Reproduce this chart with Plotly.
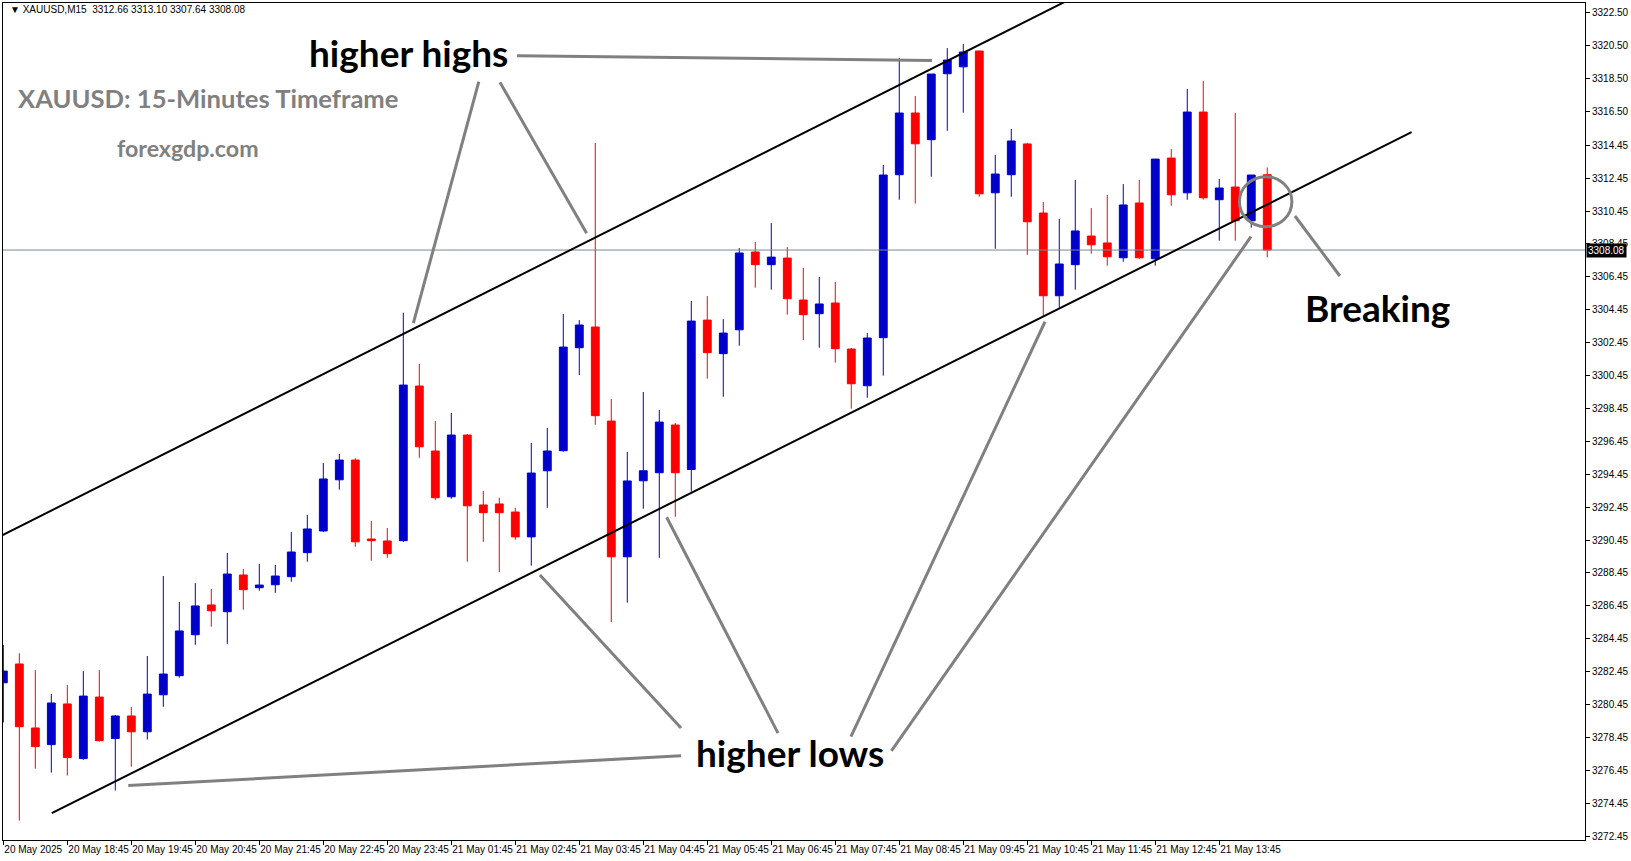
import plotly.graph_objects as go

# ---------------- data ----------------
opens = [3281.77, 3282.91, 3279.02, 3278.01, 3280.48, 3277.16, 3280.90, 3278.38, 3279.75, 3278.79,
         3281.04, 3282.20, 3284.69, 3286.50, 3286.09, 3288.32, 3287.55, 3287.73, 3288.22, 3289.68,
         3291.00, 3294.11, 3295.31, 3290.51, 3290.39, 3290.41, 3299.81, 3295.86, 3293.08, 3296.83,
         3292.58, 3292.64, 3292.15, 3290.64, 3294.66, 3295.88, 3302.14, 3303.40, 3297.68, 3289.43,
         3294.05, 3294.54, 3297.44, 3294.74, 3303.82, 3301.78, 3303.23, 3307.96, 3307.19, 3307.59,
         3305.04, 3304.21, 3304.86, 3302.06, 3299.83, 3302.75, 3312.66, 3316.41, 3314.79, 3318.80,
         3319.22, 3320.18, 3311.56, 3312.66, 3314.53, 3310.33, 3305.30, 3307.19, 3308.93, 3308.51,
         3307.61, 3310.94, 3307.55, 3313.67, 3311.56, 3316.47, 3311.14, 3311.91, 3309.86, 3312.66]

highs = [3284.06, 3283.56, 3282.54, 3281.08, 3281.63, 3282.48, 3282.54, 3279.81, 3280.29, 3283.40,
         3288.26, 3286.68, 3287.83, 3287.47, 3289.66, 3288.68, 3288.99, 3288.93, 3290.93, 3291.97,
         3295.13, 3295.68, 3295.42, 3291.60, 3291.18, 3304.27, 3301.15, 3297.68, 3298.17, 3296.89,
         3293.43, 3293.02, 3292.41, 3296.36, 3297.26, 3304.19, 3303.82, 3314.59, 3299.02, 3295.80,
         3299.45, 3298.35, 3297.56, 3304.98, 3305.28, 3303.88, 3308.20, 3308.57, 3309.72, 3308.26,
         3306.99, 3306.44, 3306.14, 3302.12, 3303.03, 3313.25, 3319.75, 3317.44, 3318.78, 3320.36,
         3320.60, 3320.20, 3313.86, 3315.44, 3314.60, 3311.00, 3309.97, 3312.34, 3310.63, 3311.43,
         3312.09, 3312.34, 3313.61, 3314.22, 3317.87, 3318.35, 3312.40, 3316.41, 3312.64, 3313.10]

lows = [3279.36, 3273.39, 3276.55, 3276.31, 3276.13, 3277.08, 3278.20, 3275.22, 3276.67, 3278.32,
        3280.31, 3282.08, 3284.08, 3285.18, 3284.14, 3286.21, 3287.37, 3287.24, 3287.91, 3289.13,
        3290.93, 3293.51, 3290.04, 3289.19, 3289.37, 3290.33, 3295.45, 3292.88, 3292.96, 3289.13,
        3290.34, 3288.51, 3290.46, 3288.89, 3292.41, 3295.82, 3300.48, 3297.46, 3285.46, 3286.64,
        3292.35, 3289.37, 3291.86, 3293.39, 3300.26, 3299.16, 3302.26, 3305.79, 3305.67, 3304.15,
        3302.61, 3302.14, 3301.23, 3298.43, 3299.10, 3300.44, 3311.14, 3310.90, 3312.54, 3315.33,
        3316.43, 3311.32, 3308.16, 3311.32, 3307.79, 3304.02, 3304.57, 3305.67, 3307.86, 3307.13,
        3307.37, 3307.55, 3307.13, 3310.77, 3311.14, 3311.14, 3308.65, 3308.65, 3309.44, 3307.64]

closes = [3282.48, 3279.10, 3277.89, 3280.54, 3277.22, 3280.96, 3278.25, 3279.75, 3278.79, 3281.08,
          3282.30, 3284.92, 3286.44, 3286.15, 3288.38, 3287.43, 3287.71, 3288.26, 3289.72, 3291.12,
          3294.16, 3295.31, 3290.34, 3290.41, 3289.62, 3299.87, 3296.12, 3293.02, 3296.83, 3292.53,
          3292.11, 3292.11, 3290.64, 3294.52, 3295.86, 3302.18, 3303.52, 3298.01, 3289.43, 3294.04,
          3294.66, 3297.62, 3294.54, 3303.76, 3301.84, 3303.03, 3307.90, 3307.19, 3307.65, 3305.12,
          3304.15, 3304.80, 3302.08, 3299.95, 3302.73, 3312.64, 3316.41, 3314.54, 3318.78, 3319.63,
          3320.12, 3311.50, 3312.70, 3314.71, 3309.80, 3305.30, 3307.23, 3309.24, 3308.40, 3307.67,
          3310.82, 3307.61, 3313.61, 3311.44, 3316.47, 3311.26, 3311.85, 3309.86, 3312.64, 3308.08]

x_tick_labels = ["20 May 2025", "20 May 18:45", "20 May 19:45", "20 May 20:45", "20 May 21:45",
                 "20 May 22:45", "20 May 23:45", "21 May 01:45", "21 May 02:45", "21 May 03:45",
                 "21 May 04:45", "21 May 05:45", "21 May 06:45", "21 May 07:45", "21 May 08:45",
                 "21 May 09:45", "21 May 10:45", "21 May 11:45", "21 May 12:45", "21 May 13:45"]
bars_per_label = 4

y_tick_labels = ["3322.50", "3320.50", "3318.50", "3316.50", "3314.45", "3312.45", "3310.45",
                 "3308.45", "3306.45", "3304.45", "3302.45", "3300.45", "3298.45", "3296.45",
                 "3294.45", "3292.45", "3290.45", "3288.45", "3286.45", "3284.45", "3282.45",
                 "3280.45", "3278.45", "3276.45", "3274.45", "3272.45"]

# channel lines: (bar index, price) end points
upper_channel = [(-0.5, 3290.53), (67.0, 3323.49)]
lower_channel = [(3.03, 3273.84), (88.02, 3315.25)]

# grey pointer lines: (bar index, price) pairs
pointer_lines = [
    [(32.11, 3319.89), (58.04, 3319.61)],
    [(29.72, 3318.32), (25.63, 3303.63)],
    [(31.04, 3318.28), (36.46, 3309.10)],
    [(7.81, 3275.52), (42.36, 3277.33)],
    [(42.36, 3279.02), (33.54, 3288.32)],
    [(48.42, 3278.71), (41.46, 3291.83)],
    [(52.98, 3278.50), (65.11, 3303.72)],
    [(55.51, 3277.63), (77.98, 3308.89)],
    [(83.54, 3306.50), (80.73, 3310.15)],
]
break_circle = dict(x0=77.26, x1=80.54, y0=3309.50, y1=3312.54)

symbol_info = "XAUUSD,M15"

# ---------------- figure ----------------
BLUE = "#0000CC"
RED = "#FF0000"
GREY = "#808080"

bar_index = list(range(len(opens)))
last_close = closes[-1]

fig = go.Figure()

# current price line (behind candles)
fig.add_trace(go.Scatter(x=[-1, 120], y=[last_close, last_close], mode="lines",
                         line=dict(color="#778899", width=1), hoverinfo="skip", showlegend=False))

fig.add_trace(go.Candlestick(
    x=bar_index, open=opens, high=highs, low=lows, close=closes,
    increasing=dict(line=dict(color=BLUE, width=1), fillcolor=BLUE),
    decreasing=dict(line=dict(color=RED, width=1), fillcolor=RED),
    whiskerwidth=0, showlegend=False, hoverinfo="skip"))

for seg in (upper_channel, lower_channel):
    fig.add_trace(go.Scatter(x=[p[0] for p in seg], y=[p[1] for p in seg], mode="lines",
                             line=dict(color="black", width=2), hoverinfo="skip", showlegend=False))

px_, py_ = [], []
for seg in pointer_lines:
    px_ += [seg[0][0], seg[1][0], None]
    py_ += [seg[0][1], seg[1][1], None]
fig.add_trace(go.Scatter(x=px_, y=py_, mode="lines", line=dict(color=GREY, width=3),
                         hoverinfo="skip", showlegend=False))

fig.add_shape(type="circle", xref="x", yref="y", line=dict(color=GREY, width=3), **break_circle)

BIG = dict(family="Lato, Liberation Sans, sans-serif", size=37, color="black", weight="bold")
fig.add_annotation(x=25.33, y=3320.08, xref="x", yref="y", text="higher highs", showarrow=False,
                   font=BIG, xanchor="center", yanchor="middle")
fig.add_annotation(x=49.14, y=3277.50, xref="x", yref="y", text="higher lows", showarrow=False,
                   font=BIG, xanchor="center", yanchor="middle")
fig.add_annotation(x=85.89, y=3304.60, xref="x", yref="y", text="Breaking", showarrow=False,
                   font=BIG, xanchor="center", yanchor="middle")
fig.add_annotation(x=0.80, y=3317.35, xref="x", yref="y", text="XAUUSD: 15-Minutes Timeframe",
                   showarrow=False, xanchor="left", yanchor="middle",
                   font=dict(family="Lato, Liberation Sans, sans-serif", size=25.6, color=GREY, weight="bold"))
fig.add_annotation(x=11.54, y=3314.28, xref="x", yref="y", text="forexgdp.com",
                   showarrow=False, xanchor="center", yanchor="middle",
                   font=dict(family="Lato, Liberation Sans, sans-serif", size=23.2, color=GREY, weight="bold"))

header = "\u25BC " + symbol_info + "\u00a0\u00a0" + " ".join(f"{v:.2f}" for v in
                                                          (opens[-1], highs[-1], lows[-1], closes[-1]))
fig.add_annotation(x=0.003, y=0.9925, xref="paper", yref="paper", text=header, showarrow=False,
                   xanchor="left", yanchor="middle",
                   font=dict(family="Liberation Sans, Arial, sans-serif", size=10, color="black"))

# current price label on the axis
fig.add_annotation(x=1, y=last_close, xref="paper", yref="y", text=f"{last_close:.2f}", showarrow=False,
                   xanchor="left", yanchor="middle", xshift=1, bgcolor="black", borderpad=1,
                   font=dict(family="Liberation Sans, Arial, sans-serif", size=10, color="white"))

AX_FONT = dict(family="Liberation Sans, Arial, sans-serif", size=10, color="black")
fig.update_layout(
    width=1631, height=861,
    margin=dict(l=3, r=46, t=3, b=21, autoexpand=False),
    paper_bgcolor="white", plot_bgcolor="white",
    showlegend=False,
    xaxis=dict(range=[-0.02, 98.86], tickmode="array",
               tickvals=[i * bars_per_label for i in range(len(x_tick_labels))],
               ticktext=x_tick_labels, ticks="outside", ticklen=4, tickcolor="black",
               ticklabelposition="outside right", tickangle=0, tickfont=AX_FONT,
               showgrid=False, zeroline=False, showline=True, linecolor="black", linewidth=1,
               mirror=True, rangeslider=dict(visible=False), fixedrange=True),
    yaxis=dict(range=[3272.21, 3323.10], side="right", tickmode="array",
               tickvals=[float(t) for t in y_tick_labels], ticktext=y_tick_labels,
               ticks="outside", ticklen=4, tickcolor="black", tickfont=AX_FONT,
               showgrid=False, zeroline=False, showline=True, linecolor="black", linewidth=1,
               mirror=True, fixedrange=True),
)

fig.write_html("out.html", config={"displayModeBar": False},
               post_script="document.body.style.margin='0';document.body.style.overflow='hidden';")
